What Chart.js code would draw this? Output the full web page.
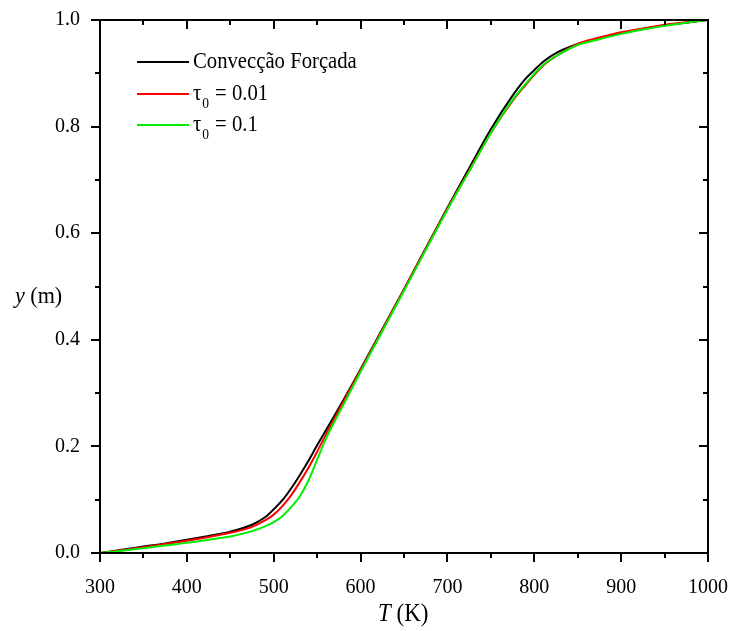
<!DOCTYPE html>
<html>
<head>
<meta charset="utf-8">
<script src="https://cdn.jsdelivr.net/npm/chart.js@4/dist/chart.umd.min.js"></script>
<style>
  html, body { margin: 0; padding: 0; background: #fff; }
  #wrap { width: 730px; height: 631px; }
</style>
</head>
<body>
<div id="wrap"><canvas id="c" width="730" height="631"></canvas></div>
<script>
// ---- data ----
const temperatures = [300, 325, 350, 375, 400, 425, 450, 475, 490, 500, 510, 520, 530, 540, 550, 560, 575, 600, 650, 700, 725, 750, 775, 790, 800, 812, 825, 850, 875, 900, 925, 950, 975, 1000];
const yForced = [0, 0.006, 0.012, 0.018, 0.025, 0.032, 0.040, 0.053, 0.067, 0.082, 0.099, 0.121, 0.146, 0.173, 0.202, 0.230, 0.272, 0.345, 0.495, 0.648, 0.722, 0.795, 0.858, 0.890, 0.906, 0.924, 0.938, 0.955, 0.966, 0.975, 0.983, 0.990, 0.995, 1.0];
const yTau001 = [0, 0.005, 0.011, 0.017, 0.023, 0.030, 0.038, 0.049, 0.061, 0.072, 0.088, 0.108, 0.133, 0.160, 0.190, 0.222, 0.268, 0.343, 0.494, 0.646, 0.717, 0.788, 0.848, 0.878, 0.897, 0.917, 0.932, 0.955, 0.967, 0.977, 0.984, 0.991, 0.996, 1.0];
const yTau01 = [0, 0.004, 0.009, 0.014, 0.019, 0.025, 0.031, 0.041, 0.050, 0.058, 0.069, 0.086, 0.106, 0.136, 0.175, 0.214, 0.262, 0.340, 0.492, 0.644, 0.716, 0.788, 0.850, 0.880, 0.899, 0.918, 0.932, 0.953, 0.964, 0.974, 0.982, 0.989, 0.995, 1.0];
const xTickStep = 100;
const yTickStep = 0.2;
const seriesLabels = ['Convecção Forçada', 'τ0 = 0.01', 'τ0 = 0.1'];
const seriesColors = ['#000000', '#ff0000', '#00ee00'];

const toPts = arr => temperatures.map((t, i) => ({ x: t, y: arr[i] }));
const SERIF = '"Liberation Serif", "Times New Roman", serif';

const framePlugin = {
  id: 'frame',
  afterDatasetsDraw(chart) {
    const { ctx, chartArea: a, scales } = chart;
    const xs = scales.x, ys = scales.y;
    ctx.save();
    ctx.strokeStyle = '#000';
    ctx.lineWidth = 2;
    ctx.strokeRect(a.left, a.top, a.right - a.left, a.bottom - a.top);
    ctx.beginPath();
    // x ticks (bottom outward, top inward)
    for (let v = xs.min; v <= xs.max + 1e-9; v += xTickStep / 2) {
      const major = Math.abs((v - xs.min) % xTickStep) < 1e-6;
      const len = major ? 9 : 5;
      const px = Math.round(xs.getPixelForValue(v));
      ctx.moveTo(px, a.bottom); ctx.lineTo(px, a.bottom + len);
      ctx.moveTo(px, a.top); ctx.lineTo(px, a.top + len);
    }
    // y ticks (left outward, right inward)
    for (let k = 0; k <= 10; k++) {
      const v = k * yTickStep / 2;
      const major = k % 2 === 0;
      const len = major ? 9 : 5;
      const py = Math.round(ys.getPixelForValue(v));
      ctx.moveTo(a.left, py); ctx.lineTo(a.left - len, py);
      ctx.moveTo(a.right, py); ctx.lineTo(a.right - len, py);
    }
    ctx.stroke();

    // axis titles
    ctx.fillStyle = '#000';
    ctx.textBaseline = 'middle';
    ctx.save();
    ctx.translate(15, 297);
    ctx.scale(0.92, 1);
    ctx.font = 'italic 24px ' + SERIF;
    ctx.textAlign = 'left';
    ctx.fillText('y', 0, 0);
    let w = ctx.measureText('y ').width;
    ctx.font = '24px ' + SERIF;
    ctx.fillText('(m)', w, 0);
    ctx.restore();
    ctx.save();
    ctx.translate(378, 614);
    ctx.scale(0.92, 1);
    ctx.font = 'italic 25px ' + SERIF;
    ctx.textAlign = 'left';
    ctx.fillText('T', 0, 0);
    w = ctx.measureText('T ').width;
    ctx.font = '25px ' + SERIF;
    ctx.fillText('(K)', w, 0);
    ctx.restore();

    // legend
    const rows = [62, 94, 125];
    chart.data.datasets.forEach((ds, i) => {
      const y = rows[i];
      ctx.strokeStyle = ds.borderColor;
      ctx.lineWidth = 2;
      ctx.beginPath();
      ctx.moveTo(137, y); ctx.lineTo(189, y);
      ctx.stroke();
      ctx.save();
      ctx.translate(193, y);
      ctx.scale(0.9, 1);
      ctx.fillStyle = '#000';
      ctx.textAlign = 'left';
      ctx.textBaseline = 'middle';
      const label = ds.label;
      if (label.startsWith('τ0')) {
        ctx.font = '23px ' + SERIF;
        ctx.fillText('τ', 0, 0);
        let off = ctx.measureText('τ').width + 1;
        ctx.font = '15px ' + SERIF;
        ctx.fillText('0', off, 10);
        off += ctx.measureText('0').width + 1;
        ctx.font = '23px ' + SERIF;
        ctx.fillText(label.slice(2), off, 0);
      } else {
        ctx.font = '23px ' + SERIF;
        ctx.fillText(label, 0, 0);
      }
      ctx.restore();
    });
    ctx.restore();
  }
};

new Chart(document.getElementById('c'), {
  type: 'line',
  data: {
    datasets: [
      { label: seriesLabels[0], data: toPts(yForced), borderColor: seriesColors[0], order: 2 },
      { label: seriesLabels[1], data: toPts(yTau001), borderColor: seriesColors[1], order: 1 },
      { label: seriesLabels[2], data: toPts(yTau01), borderColor: seriesColors[2], order: 0 }
    ].map(d => Object.assign(d, {
      borderWidth: 2, pointRadius: 0, fill: false, cubicInterpolationMode: 'monotone'
    }))
  },
  options: {
    responsive: false,
    animation: false,
    layout: { padding: { left: 0, right: 22, top: 20, bottom: 0 } },
    plugins: { legend: { display: false }, tooltip: { enabled: false } },
    scales: {
      x: {
        type: 'linear', min: 300, max: 1000,
        grid: { display: false }, border: { display: false },
        ticks: { stepSize: xTickStep, color: '#000', padding: 15, maxRotation: 0,
                 font: { family: SERIF, size: 20 }, callback: v => String(v) },
        afterFit: s => { s.height = 78; s.paddingLeft = 0; s.paddingRight = 0; }
      },
      y: {
        type: 'linear', min: 0, max: 1,
        grid: { display: false }, border: { display: false },
        ticks: { stepSize: yTickStep, color: '#000', padding: 12,
                 font: { family: SERIF, size: 20 }, callback: v => v.toFixed(1) },
        afterFit: s => { s.width = 100; s.paddingTop = 0; s.paddingBottom = 0; }
      }
    }
  },
  plugins: [framePlugin]
});
</script>
</body>
</html>
